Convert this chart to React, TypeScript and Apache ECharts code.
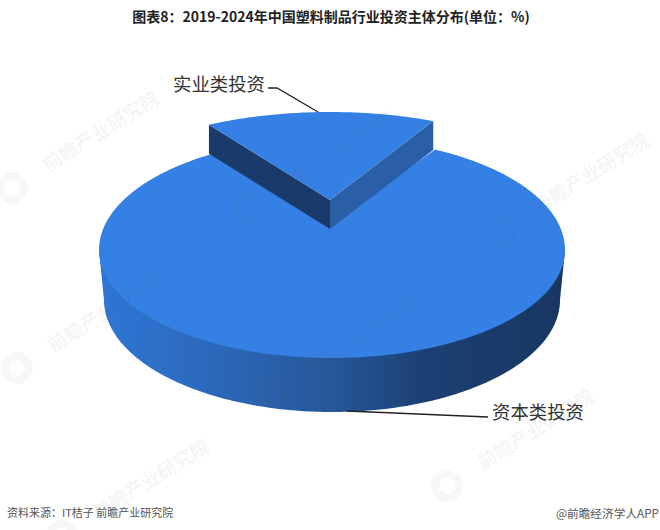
import React, { useEffect, useRef } from "react";
import * as echarts from "echarts";

const categories = ["资本类投资", "实业类投资"];
const values = [84, 16];
const titleText = "图表8：2019-2024年中国塑料制品行业投资主体分布(单位：%)";
const sourceText = "资料来源：IT桔子 前瞻产业研究院";
const creditText = "@前瞻经济学人APP";
const watermarkText = "前瞻产业研究院";
const watermarkSpots = [[100, 130], [335, 150], [590, 172], [105, 310], [360, 335], [150, 478], [535, 428]];

const START_ANGLE = 26.3;
const RX = 233;
const ringShape = [
  { cx: 332, cy: 250, back: 112, front: 108, depth: 0, apexY: 222 },
  { cx: 330, cy: 200, back: 88, front: 88, depth: 29, apexY: 200 },
];
const TOP_COLOR = "#3480e4";
const SIDE_GRADIENT = {
  type: "linear", x: 0, y: 0, x2: 1, y2: 0,
  colorStops: [
    { offset: 0, color: "#2e76d6" },
    { offset: 0.25, color: "#2c68ba" },
    { offset: 0.5, color: "#265798" },
    { offset: 0.7, color: "#1c4074" },
    { offset: 1, color: "#183660" },
  ],
};

function pt(shape: any, deg: number): number[] {
  const r = (deg * Math.PI) / 180;
  const cos = Math.cos(r);
  const b = cos >= 0 ? shape.back : shape.front;
  return [shape.cx + RX * Math.sin(r), shape.cy - b * cos];
}

function arc(shape: any, from: number, to: number): number[][] {
  const n = Math.max(2, Math.ceil(Math.abs(to - from) * 1.5));
  const out: number[][] = [];
  for (let i = 0; i <= n; i++) out.push(pt(shape, from + ((to - from) * i) / n));
  return out;
}

function renderItem(params: any, api: any) {
  const idx = params.dataIndex;
  const total = values.reduce((s, v) => s + v, 0);
  const before = values.slice(0, idx).reduce((s, v) => s + v, 0);
  const from = START_ANGLE + (before / total) * 360;
  const to = from + (api.value(0) / total) * 360;
  const shape = ringShape[idx];
  const top = arc(shape, from, to);
  const children: any[] = [];
  const apex = [shape.cx, shape.apexY];
  if (idx === 0) {
    const lower = { cx: 332, cy: 300, back: 112, front: 112 };
    const bottom: number[][] = [];
    for (let d = -90; d >= -270; d -= 1) {
      const r = (d * Math.PI) / 180;
      bottom.push([lower.cx + (RX - 5) * Math.sin(r), lower.cy - lower.front * Math.cos(r)]);
    }
    children.push({
      type: "polygon",
      shape: { points: [[shape.cx + RX, shape.cy], ...bottom.reverse(), [shape.cx - RX, shape.cy]].reverse() },
      style: { fill: SIDE_GRADIENT },
    });
  } else {
    const d = shape.depth;
    const a = top[0];
    const z = top[top.length - 1];
    children.push({
      type: "polygon",
      shape: { points: [a, apex, [apex[0], apex[1] + d], [a[0], a[1] + d]] },
      style: { fill: "#1a3a6b" },
    });
    children.push({
      type: "polygon",
      shape: { points: [z, apex, [apex[0], apex[1] + d], [z[0], z[1] + d]] },
      style: { fill: "#2a5fa8" },
    });
  }
  children.push({ type: "polygon", shape: { points: [...top, apex] }, style: { fill: TOP_COLOR } });
  return { type: "group", children };
}

const labelFont = '"Noto Sans CJK SC", sans-serif';
const WM_ANGLE = (32 * Math.PI) / 180;

export default function App() {
  const ref = useRef<HTMLDivElement>(null);
  useEffect(() => {
    if (!ref.current) return;
    const chart = echarts.init(ref.current, undefined, { renderer: "svg" });
    chart.setOption({
      animation: false,
      backgroundColor: "#ffffff",
      title: {
        text: titleText,
        left: 326,
        top: 4,
        textAlign: "center",
        textStyle: { fontSize: 14, fontWeight: "bold", color: "#222", fontFamily: labelFont },
      },
      series: [
        {
          type: "custom",
          coordinateSystem: "none",
          renderItem,
          data: categories.map((name, i) => ({ name, value: [values[i]] })),
          silent: true,
          z: 2,
        },
      ],
      graphic: [
        ...watermarkSpots.flatMap(([x, y]) => [
          {
            type: "text",
            x,
            y,
            rotation: WM_ANGLE,
            z: 5,
            silent: true,
            style: {
              text: watermarkText,
              fontSize: 19,
              fontWeight: "bold",
              fontFamily: labelFont,
              fill: "rgba(100,100,100,0.08)",
              align: "center",
              verticalAlign: "middle",
            },
          },
          {
            type: "ring",
            z: 5,
            silent: true,
            shape: { cx: x - 88, cy: y + 58, r: 16, r0: 8 },
            style: { fill: "rgba(100,100,100,0.05)" },
          },
        ]),
        { type: "polyline", z: 6, shape: { points: [[268, 88], [277, 88], [318, 112]] }, style: { stroke: "#222", lineWidth: 1.3, fill: "none" } },
        { type: "polyline", z: 6, shape: { points: [[347, 411], [488, 417]] }, style: { stroke: "#222", lineWidth: 1.3, fill: "none" } },
        { type: "text", z: 6, x: 173, y: 83, style: { text: categories[1], fontSize: 18.4, fontFamily: labelFont, fill: "#333", verticalAlign: "middle" } },
        { type: "text", z: 6, x: 492, y: 411, style: { text: categories[0], fontSize: 18.4, fontFamily: labelFont, fill: "#333", verticalAlign: "middle" } },
        { type: "text", z: 6, x: 7, y: 512, style: { text: sourceText, fontSize: 11, fontFamily: labelFont, fill: "#555", verticalAlign: "middle" } },
        { type: "text", z: 6, x: 659, y: 512, style: { text: creditText, fontSize: 11.7, fontFamily: labelFont, fill: "#555", align: "right", verticalAlign: "middle" } },
      ],
    });
    return () => chart.dispose();
  }, []);
  return <div ref={ref} style={{ position: "absolute", left: 0, top: 0, width: 660, height: 530 }} />;
}
